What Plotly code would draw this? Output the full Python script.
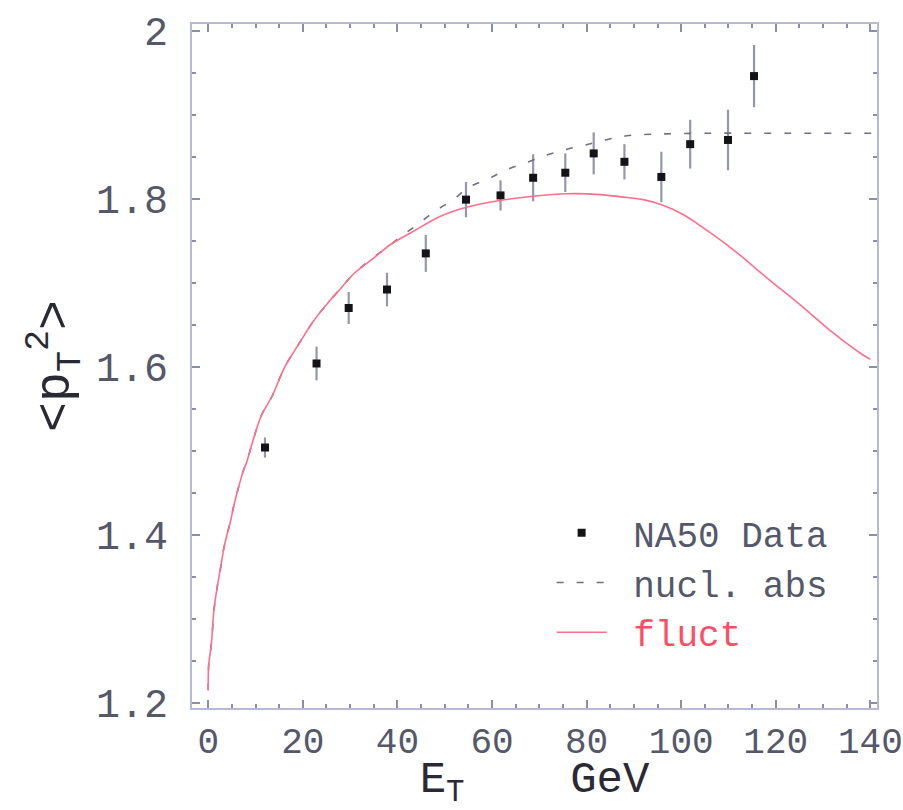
import plotly.graph_objects as go

# NA50 data points
na50_et = [12.0, 22.9, 29.7, 37.8, 46.0, 54.5, 61.8, 68.7, 75.5, 81.5, 88.0, 95.8, 101.9, 109.9, 115.4]
na50_pt2 = [1.504, 1.604, 1.670, 1.692, 1.735, 1.799, 1.804, 1.825, 1.831, 1.854, 1.844, 1.826, 1.865, 1.870, 1.946]
na50_err = [0.012, 0.020, 0.019, 0.020, 0.022, 0.021, 0.018, 0.028, 0.023, 0.025, 0.021, 0.030, 0.029, 0.036, 0.037]

# fluctuation curve
fluct_et = [0.0, 0.1, 0.7, 1.2, 1.9, 2.65, 3.3, 4.0, 4.7, 5.3, 6.0, 6.7, 7.4, 8.1, 9.5, 11.3, 13.5,
            16.2, 18.8, 22.2, 25.0, 27.8, 31.0, 34.9, 38.4, 43.3, 49.0, 54.6, 61.7, 68.7, 75.8,
            82.9, 87.8, 92.0, 96.3, 100.5, 104.0, 111.1, 118.1, 125.1, 132.2, 138.2, 140.0]
fluct_pt2 = [1.215, 1.245, 1.272, 1.310, 1.338, 1.362, 1.384, 1.401, 1.416, 1.432, 1.448, 1.4625, 1.476,
             1.486, 1.513, 1.543, 1.565, 1.600, 1.624, 1.654, 1.674, 1.692, 1.712, 1.729, 1.745, 1.761,
             1.779, 1.790, 1.798, 1.803, 1.806, 1.805, 1.802, 1.799, 1.792, 1.781, 1.768, 1.739,
             1.706, 1.674, 1.640, 1.615, 1.609]

# nuclear absorption curve
nucl_et = [0.0, 0.1, 0.7, 1.2, 1.9, 2.65, 3.3, 4.0, 4.7, 5.3, 6.0, 6.7, 7.4, 8.1, 9.5, 11.3, 13.5,
           16.2, 18.8, 22.2, 25.0, 27.8, 31.0, 34.9, 38.4, 41.2, 44.4, 47.9, 51.8, 55.2, 59.5, 63.1,
           67.6, 71.6, 75.8, 79.7, 84.0, 88.5, 95.0, 105.0, 120.0, 141.4]
nucl_pt2 = [1.215, 1.245, 1.272, 1.310, 1.338, 1.362, 1.384, 1.401, 1.416, 1.432, 1.448, 1.4625, 1.476,
            1.486, 1.513, 1.543, 1.565, 1.600, 1.624, 1.654, 1.674, 1.692, 1.712, 1.730, 1.745, 1.757,
            1.770, 1.785, 1.799, 1.814, 1.8246, 1.8345, 1.8437, 1.852, 1.859, 1.864, 1.870, 1.875,
            1.877, 1.878, 1.878, 1.878]

x_ticks = [0, 20, 40, 60, 80, 100, 120, 140]
y_ticks = [1.2, 1.4, 1.6, 1.8, 2.0]

FONT = "Liberation Mono, Courier New, monospace"
FRAME = "#b6bad2"
TICKC = "#8c8ea8"
TXT = "#55586a"
NB = "\u00a0"

fig = go.Figure()

fig.add_trace(go.Scatter(
    x=na50_et, y=na50_pt2, mode="markers", name=NB + "NA50 Data",
    marker=dict(symbol="square", size=8, color="#141418"),
    error_y=dict(type="data", array=na50_err, visible=True, color="#9496ae", thickness=2.2, width=0),
))
fig.add_trace(go.Scatter(
    x=nucl_et, y=nucl_pt2, mode="lines", name=NB + "nucl. abs", line_shape="spline",
    line=dict(color="#6e7084", width=1.6, dash="7px,13px"),
))
fig.add_trace(go.Scatter(
    x=fluct_et, y=fluct_pt2, mode="lines", name=NB + "<span style='color:#ff4d62'>fluct</span>",
    line_shape="spline",
    line=dict(color="#ff6f8a", width=1.6),
))

axis_common = dict(
    showline=True, linecolor=FRAME, linewidth=2, mirror="ticks",
    ticks="inside", ticklen=8, tickwidth=2, tickcolor=TICKC,
    showgrid=False, zeroline=False,
    ticklabeloverflow="allow", automargin=False,
)

fig.update_xaxes(
    range=[-3.43, 141.4], tickvals=x_ticks, ticktext=[str(v) for v in x_ticks],
    tickfont=dict(family=FONT, size=36, color=TXT),
    minor=dict(dtick=5, tick0=0, ticks="inside", ticklen=4, tickwidth=1.5, tickcolor=TICKC),
    title=dict(text="E<sub>T</sub>" + NB * 4 + "GeV", font=dict(family=FONT, size=44, color="#2a2a34"), standoff=14),
    **axis_common,
)
fig.update_yaxes(
    range=[1.194, 2.008], tickvals=y_ticks, ticktext=["1.2", "1.4", "1.6", "1.8", "2"],
    tickfont=dict(family=FONT, size=40, color=TXT),
    minor=dict(dtick=0.05, tick0=1.2, ticks="inside", ticklen=4, tickwidth=1.5, tickcolor=TICKC),
    ticklabelstandoff=14,
    title=dict(text="&lt;p<sub>T</sub><sup>2</sup>&gt;", font=dict(family=FONT, size=50, color="#2a2a34"), standoff=10),
    **axis_common,
)

fig.update_layout(
    width=903, height=810, autosize=False,
    margin=dict(l=192, r=26, t=24, b=102),
    plot_bgcolor="white", paper_bgcolor="white",
    showlegend=True,
    legend=dict(
        x=0.525, y=0.30, xanchor="left", yanchor="top",
        bgcolor="rgba(0,0,0,0)", borderwidth=0,
        font=dict(family=FONT, size=36, color=TXT),
        itemwidth=50, tracegroupgap=0,
    ),
)

fig.write_html("out.html")
